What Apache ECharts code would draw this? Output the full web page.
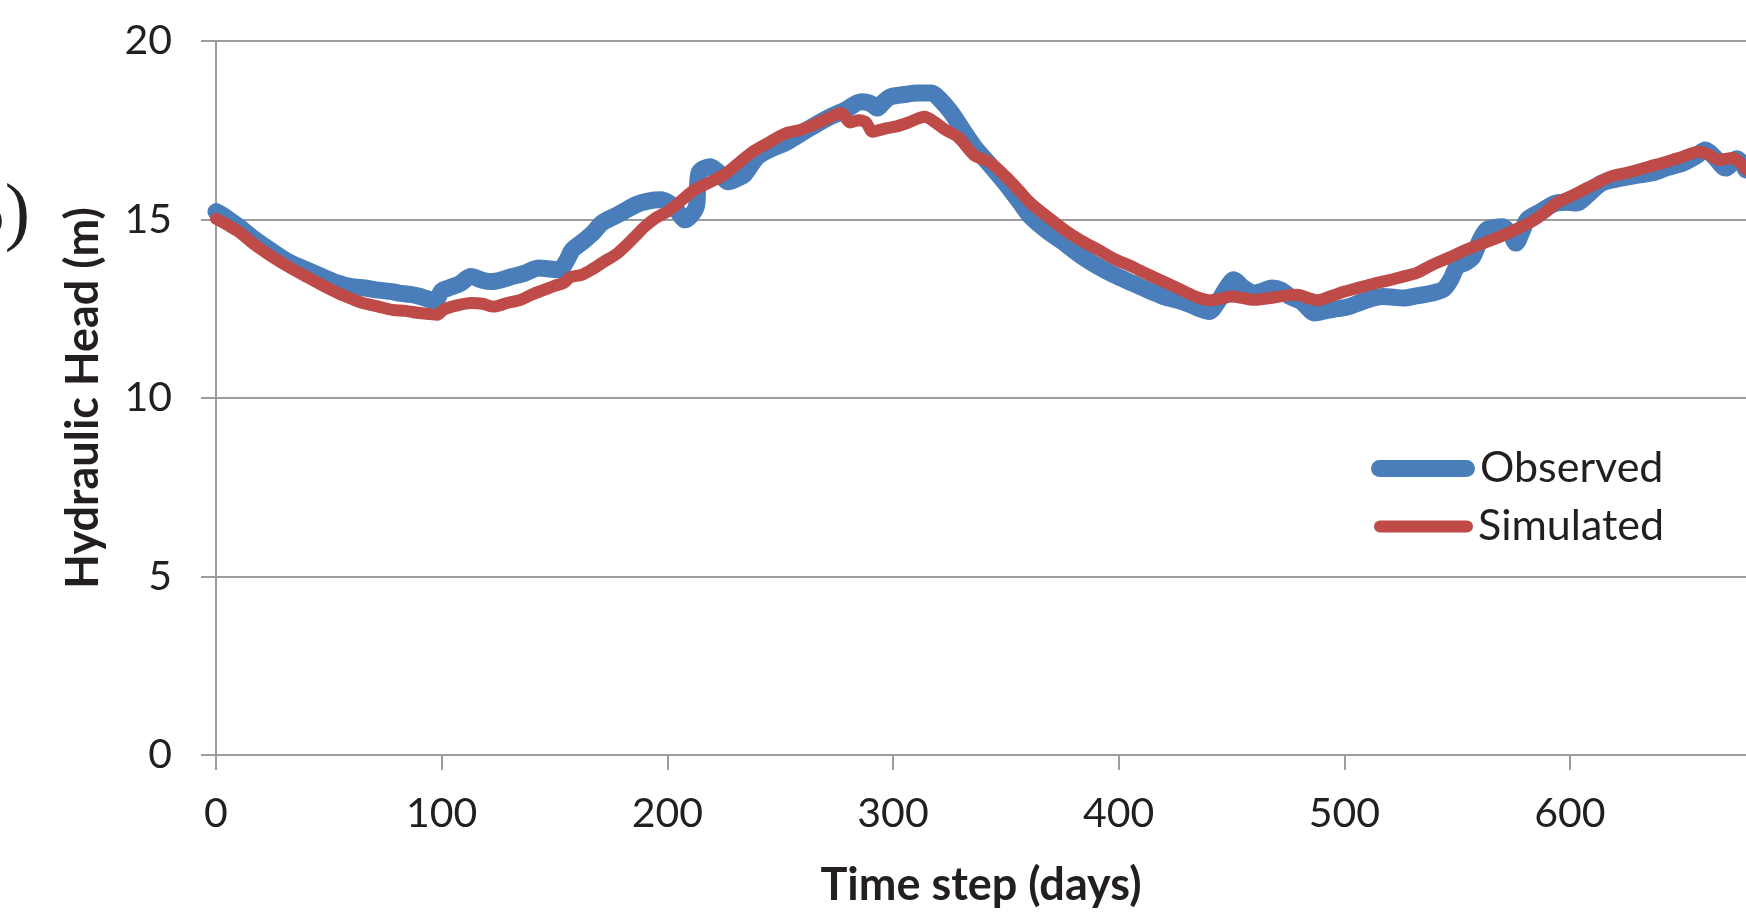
<!DOCTYPE html>
<html>
<head>
<meta charset="utf-8">
<script src="https://cdn.jsdelivr.net/npm/echarts/dist/echarts.min.js"></script>
<style>
  html, body { margin: 0; padding: 0; background: #fff; }
  #chart { width: 1746px; height: 913px; }
</style>
</head>
<body>
<div id="chart"></div>
<script>
// observed hydraulic head (blue)
const obsDays = [0, 3, 10, 17, 25, 32, 40, 47, 54, 60, 66, 72, 78, 81, 86, 90, 95, 97, 100, 103,
  108, 113, 118, 122, 127, 131, 137, 143, 147, 152, 155, 158, 163, 167, 171, 178, 186, 192, 197, 201,
  204, 208, 211, 213, 214, 219, 223, 227, 231, 234, 240, 246, 252, 259, 267, 273, 279, 286, 290, 293,
  296, 299, 305, 311, 317, 321, 326, 331, 336, 342, 350, 356, 361, 368, 376, 383, 391, 398, 406, 413,
  420, 427, 432, 436, 440, 444, 448, 451, 455, 460, 464, 468, 472, 476, 481, 487, 492, 497, 502, 508,
  513, 517, 522, 526, 532, 539, 544, 547, 550, 554, 557, 560, 563, 567, 570, 574, 576, 579, 581, 587,
  594, 599, 603, 608, 614, 622, 630, 636, 643, 650, 656, 660, 664, 669, 674, 678]
const obsHead = [15.22, 15.12, 14.80, 14.45, 14.10, 13.82, 13.59, 13.40, 13.22, 13.12, 13.08, 13.02, 12.98, 12.94, 12.90, 12.85, 12.75, 12.70, 13.00, 13.08,
  13.20, 13.40, 13.30, 13.26, 13.32, 13.40, 13.50, 13.64, 13.62, 13.59, 13.80, 14.15, 14.40, 14.62, 14.90, 15.13, 15.41, 15.52, 15.55, 15.45,
  15.27, 14.99, 15.15, 15.40, 16.30, 16.48, 16.30, 16.06, 16.15, 16.25, 16.76, 16.98, 17.14, 17.40, 17.70, 17.90, 18.07, 18.30, 18.25, 18.12,
  18.30, 18.44, 18.50, 18.54, 18.54, 18.35, 17.98, 17.50, 17.04, 16.60, 16.00, 15.50, 15.08, 14.70, 14.34, 14.00, 13.68, 13.45, 13.22, 13.02,
  12.84, 12.72, 12.61, 12.50, 12.42, 12.70, 13.10, 13.31, 13.10, 12.94, 13.00, 13.08, 13.02, 12.84, 12.70, 12.38, 12.45, 12.50, 12.56, 12.70,
  12.80, 12.84, 12.82, 12.80, 12.86, 12.94, 13.05, 13.30, 13.68, 13.80, 13.96, 14.40, 14.71, 14.78, 14.80, 14.55, 14.34, 14.70, 14.99, 15.22,
  15.46, 15.48, 15.46, 15.70, 16.02, 16.15, 16.24, 16.30, 16.45, 16.58, 16.78, 16.95, 16.75, 16.44, 16.70, 16.39]

// simulated hydraulic head (red)
const simDays = [0, 5, 10, 17, 25, 32, 40, 47, 54, 60, 65, 72, 78, 84, 90, 95, 98, 101, 106, 113,
  118, 123, 129, 135, 140, 145, 150, 154, 157, 162, 166, 172, 178, 185, 190, 195, 200, 206, 212, 218,
  225, 231, 237, 244, 252, 259, 265, 270, 277, 281, 285, 288, 291, 296, 301, 307, 314, 318, 323, 329,
  336, 343, 350, 356, 361, 368, 376, 383, 391, 398, 406, 413, 420, 428, 435, 440, 445, 450, 455, 460,
  467, 473, 479, 484, 488, 494, 500, 507, 513, 520, 526, 532, 539, 546, 554, 561, 569, 576, 583, 589,
  594, 600, 606, 612, 618, 626, 635, 643, 650, 657, 662, 666, 672, 678]
const simHead = [15.02, 14.85, 14.66, 14.30, 13.95, 13.68, 13.40, 13.16, 12.94, 12.78, 12.66, 12.56, 12.47, 12.44, 12.38, 12.35, 12.33, 12.48, 12.58, 12.66,
  12.64, 12.56, 12.66, 12.75, 12.90, 13.02, 13.14, 13.22, 13.38, 13.45, 13.58, 13.82, 14.06, 14.48, 14.80, 15.05, 15.22, 15.52, 15.83, 16.02,
  16.25, 16.55, 16.86, 17.12, 17.40, 17.51, 17.66, 17.80, 17.98, 17.72, 17.78, 17.72, 17.46, 17.54, 17.60, 17.72, 17.88, 17.75, 17.52, 17.30,
  16.80, 16.60, 16.20, 15.80, 15.46, 15.10, 14.71, 14.42, 14.15, 13.90, 13.68, 13.46, 13.26, 13.02, 12.82, 12.74, 12.78, 12.84, 12.80, 12.75,
  12.80, 12.86, 12.89, 12.80, 12.74, 12.85, 12.98, 13.10, 13.20, 13.30, 13.40, 13.50, 13.73, 13.92, 14.15, 14.32, 14.52, 14.72, 14.94, 15.20,
  15.46, 15.64, 15.83, 16.02, 16.20, 16.32, 16.48, 16.62, 16.76, 16.90, 16.80, 16.67, 16.72, 16.40]

const xTicks = [0, 100, 200, 300, 400, 500, 600]

const blue = '#4a7ebb'
const red = '#be4b48'
const ink = '#231f20'
const grey = '#9d9d9f'
const font = 'Lato'

const chart = echarts.init(document.getElementById('chart'))
const option = {
  backgroundColor: '#fff',
  animation: false,
  grid: {
    left: 216,
    right: 0,
    top: 41,
    bottom: 158
  },
  legend: [
    {
      data: [{ name: 'Observed', icon: 'path://M8.5,0 H95.5 A8.5,8.5 0 0 1 95.5,17 H8.5 A8.5,8.5 0 0 1 8.5,0 Z' }],
      left: 1371,
      top: 447,
      padding: 0,
      itemWidth: 104,
      itemHeight: 17,
      itemStyle: { borderWidth: 0 },
      textStyle: { fontFamily: font, fontSize: 43, color: ink }
    },
    {
      data: [{ name: 'Simulated', icon: 'path://M6,0 H93 A6,6 0 0 1 93,12 H6 A6,6 0 0 1 6,0 Z' }],
      left: 1374,
      top: 505,
      padding: 0,
      itemWidth: 99,
      itemHeight: 12,
      itemStyle: { borderWidth: 0 },
      textStyle: { fontFamily: font, fontSize: 43, color: ink }
    }
  ],
  xAxis: {
    type: 'value',
    min: 0,
    max: 678,
    interval: 100,
    name: 'Time step (days)',
    nameLocation: 'middle',
    nameGap: 108,
    nameTextStyle: { fontFamily: font, fontSize: 45, fontWeight: 'bold', color: ink },
    splitLine: { show: false },
    axisLine: { show: true, lineStyle: { color: grey, width: 2 } },
    axisTick: { show: true, length: 15, customValues: xTicks, lineStyle: { color: grey, width: 2 } },
    axisLabel: { customValues: xTicks, margin: 38, fontFamily: font, fontSize: 41, color: ink }
  },
  yAxis: {
    type: 'value',
    min: 0,
    max: 20,
    interval: 5,
    name: 'Hydraulic Head (m)',
    nameLocation: 'middle',
    nameGap: 110,
    nameTextStyle: { fontFamily: font, fontSize: 45, fontWeight: 'bold', color: ink },
    axisLine: { show: true, lineStyle: { color: grey, width: 2 } },
    axisTick: { show: true, length: 15, lineStyle: { color: grey, width: 2 } },
    splitLine: { show: true, lineStyle: { color: grey, width: 2 } },
    axisLabel: { margin: 44, fontFamily: font, fontSize: 41, color: ink }
  },
  series: [
    {
      name: 'Observed',
      type: 'line',
      data: obsDays.map((d, i) => [d, obsHead[i]]),
      symbol: 'none',
      smooth: 0.3,
      itemStyle: { color: blue },
      lineStyle: { color: blue, width: 17, cap: 'round', join: 'round' }
    },
    {
      name: 'Simulated',
      type: 'line',
      data: simDays.map((d, i) => [d, simHead[i]]),
      symbol: 'none',
      smooth: 0.3,
      itemStyle: { color: red },
      lineStyle: { color: red, width: 12, cap: 'round', join: 'round' }
    }
  ],
  // cut-off panel label at the left edge of the source figure
  graphic: [
    {
      type: 'text',
      x: 30,
      y: 216,
      style: {
        text: '(5)',
        font: '76px "Liberation Serif"',
        fill: ink,
        align: 'right',
        verticalAlign: 'middle'
      }
    }
  ]
}
chart.setOption(option)
</script>
</body>
</html>
